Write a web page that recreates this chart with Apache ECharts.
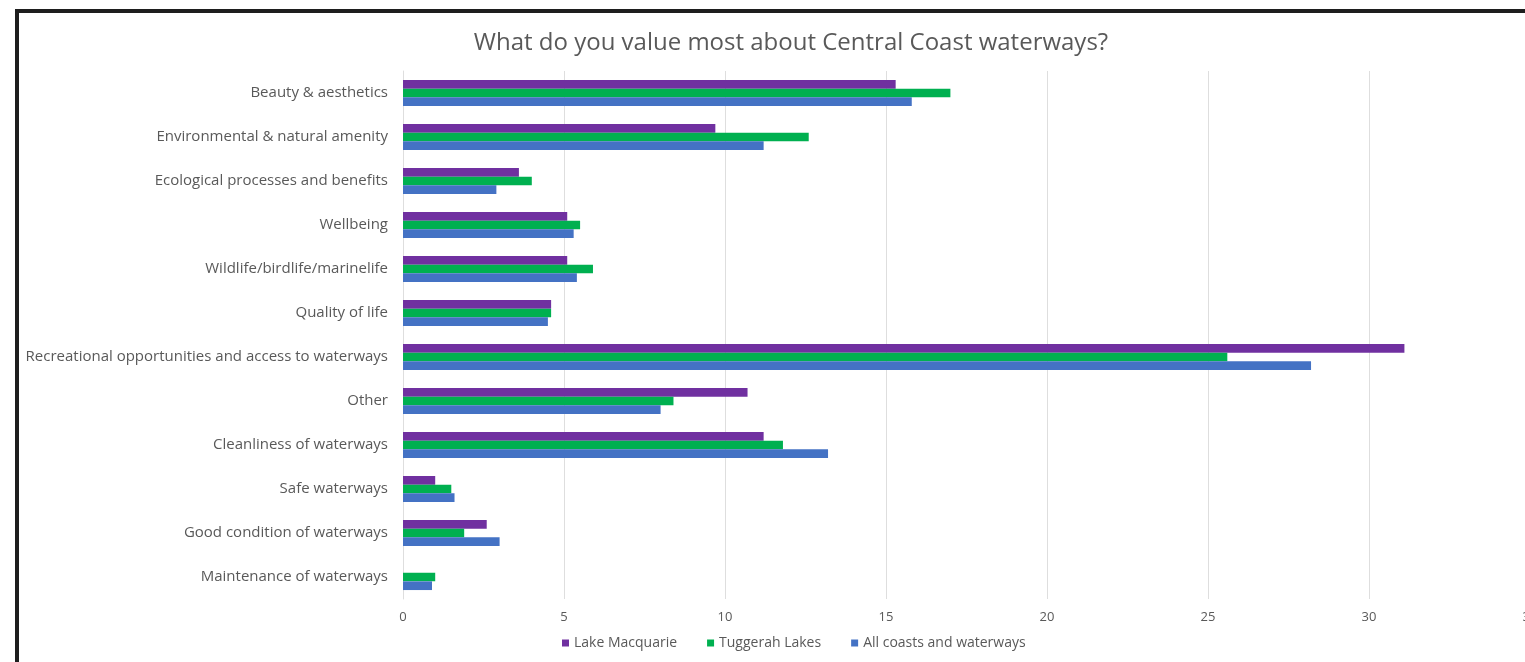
<!DOCTYPE html>
<html>
<head>
<meta charset="utf-8">
<script src="https://cdn.jsdelivr.net/npm/echarts@6/dist/echarts.min.js"></script>
<style>
  html, body { margin: 0; padding: 0; background: #fff; }
  #main { width: 1525px; height: 662px; }
</style>
</head>
<body>
<div id="main"></div>
<script>
// categories, top to bottom
const categories = [
    'Beauty & aesthetics',
    'Environmental & natural amenity',
    'Ecological processes and benefits',
    'Wellbeing',
    'Wildlife/birdlife/marinelife',
    'Quality of life',
    'Recreational opportunities and access to waterways',
    'Other',
    'Cleanliness of waterways',
    'Safe waterways',
    'Good condition of waterways',
    'Maintenance of waterways'
];
const lakeMacquarie = [15.3, 9.7, 3.6, 5.1, 5.1, 4.6, 31.1, 10.7, 11.2, 1.0, 2.6, 0];
const tuggerahLakes = [17.0, 12.6, 4.0, 5.5, 5.9, 4.6, 25.6, 8.4, 11.8, 1.5, 1.9, 1.0];
const allCoasts = [15.8, 11.2, 2.9, 5.3, 5.4, 4.5, 28.2, 8.0, 13.2, 1.6, 3.0, 0.9];
const seriesNames = ['Lake Macquarie', 'Tuggerah Lakes', 'All coasts and waterways'];
const colors = ['#7030A0', '#00B050', '#4472C4'];

const txt = '#595959';
const font = 'Open Sans';

let myChart = echarts.init(document.getElementById('main'));
myChart.setOption({
    animation: false,
    title: {
        text: 'What do you value most about Central Coast waterways?',
        left: 786,
        textAlign: 'center',
        top: 26,
        textStyle: {
            color: txt,
            fontFamily: font,
            fontWeight: 'normal',
            fontSize: 24
        }
    },
    legend: {
        data: seriesNames,
        left: 557,
        bottom: 7,
        icon: 'rect',
        itemWidth: 7,
        itemHeight: 7,
        itemGap: 30,
        textStyle: { color: txt, fontFamily: font, fontSize: 14 }
    },
    grid: {
        left: 403,
        top: 71,
        width: 1127,
        height: 528,
        outerBoundsMode: 'none',
        containLabel: false
    },
    xAxis: {
        type: 'value',
        min: 0,
        max: 35,
        interval: 5,
        axisLabel: { color: txt, fontFamily: font, fontSize: 13, margin: 12 },
        splitLine: { lineStyle: { color: '#dedede' } }
    },
    yAxis: {
        type: 'category',
        inverse: true,
        data: categories,
        axisTick: { show: false },
        axisLine: { lineStyle: { color: '#dedede' } },
        axisLabel: { color: txt, fontFamily: font, fontSize: 15, margin: 15 }
    },
    graphic: [
        { type: 'rect', shape: { x: 15, y: 9, width: 1510, height: 4 }, style: { fill: '#1e1e1e' } },
        { type: 'rect', shape: { x: 15, y: 9, width: 4, height: 653 }, style: { fill: '#1e1e1e' } }
    ],
    series: [lakeMacquarie, tuggerahLakes, allCoasts].map(function (d, i) {
        return {
            name: seriesNames[i],
            type: 'bar',
            data: d,
            barWidth: 8.7,
            barGap: '0%',
            barCategoryGap: '40%',
            itemStyle: { color: colors[i] }
        };
    })
});
</script>
</body>
</html>
